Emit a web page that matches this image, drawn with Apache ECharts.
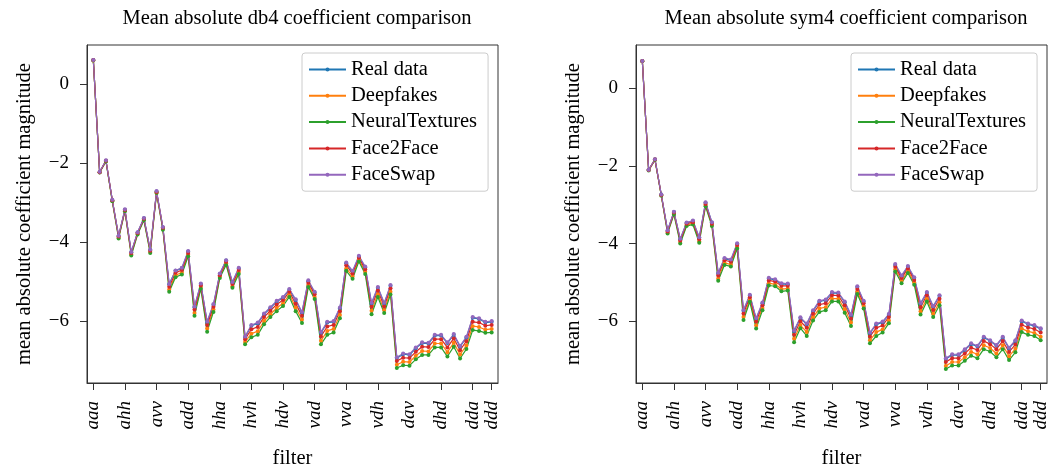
<!DOCTYPE html>
<html><head><meta charset="utf-8">
<script src="https://cdn.jsdelivr.net/npm/echarts@6/dist/echarts.min.js"></script>
<style>html,body{margin:0;padding:0;background:#fff}#c{width:1052px;height:474px}</style>
</head><body><div id="c"></div>
<script>
const filters = [
 'aaa','aah','aav','aad','aha','ahh','ahv','ahd','ava','avh','avv','avd','ada','adh','adv','add',
 'haa','hah','hav','had','hha','hhh','hhv','hhd','hva','hvh','hvv','hvd','hda','hdh','hdv','hdd',
 'vaa','vah','vav','vad','vha','vhh','vhv','vhd','vva','vvh','vvv','vvd','vda','vdh','vdv','vdd',
 'daa','dah','dav','dad','dha','dhh','dhv','dhd','dva','dvh','dvv','dvd','dda','ddh','ddv','ddd'];
const tickIdx = [0,5,10,15,20,25,30,35,40,45,50,55,60,63];
const yTicks = [-6,-4,-2,0];
const seriesNames = ['Real data','Deepfakes','NeuralTextures','Face2Face','FaceSwap'];
const colors = ['#1f77b4','#ff7f0e','#2ca02c','#d62728','#9467bd'];

// db4 (left panel)
const db4Real = [0.62,-2.22,-1.93,-2.93,-3.84,-3.17,-4.25,-3.75,-3.39,-4.19,-2.71,-3.62,-5.06,-4.72,-4.65,-4.23,-5.64,-5.05,-6.02,-5.58,-4.80,-4.46,-5.01,-4.66,-6.40,-6.11,-6.05,-5.82,-5.66,-5.50,-5.40,-5.20,-5.46,-5.78,-4.98,-5.27,-6.29,-6.03,-6.01,-5.67,-4.53,-4.74,-4.36,-4.63,-5.55,-5.15,-5.55,-5.10,-6.93,-6.83,-6.85,-6.68,-6.55,-6.56,-6.36,-6.36,-6.55,-6.34,-6.64,-6.41,-5.91,-5.94,-6.03,-6.01];
const db4Deepfakes = [0.61,-2.22,-1.94,-2.95,-3.88,-3.20,-4.30,-3.78,-3.42,-4.24,-2.74,-3.66,-5.19,-4.83,-4.76,-4.31,-5.79,-5.13,-6.18,-5.70,-4.87,-4.53,-5.11,-4.75,-6.52,-6.31,-6.25,-5.99,-5.82,-5.66,-5.54,-5.32,-5.65,-5.96,-5.08,-5.38,-6.49,-6.24,-6.19,-5.84,-4.66,-4.86,-4.44,-4.74,-5.73,-5.31,-5.71,-5.25,-7.10,-7.02,-7.03,-6.87,-6.75,-6.76,-6.56,-6.56,-6.78,-6.54,-6.84,-6.61,-6.12,-6.14,-6.21,-6.19];
const db4Neural = [0.61,-2.23,-1.95,-2.96,-3.90,-3.21,-4.33,-3.80,-3.44,-4.27,-2.75,-3.68,-5.25,-4.88,-4.81,-4.35,-5.86,-5.17,-6.26,-5.76,-4.90,-4.57,-5.15,-4.80,-6.58,-6.40,-6.34,-6.07,-5.89,-5.74,-5.61,-5.38,-5.74,-6.04,-5.13,-5.43,-6.58,-6.34,-6.28,-5.92,-4.72,-4.92,-4.48,-4.80,-5.82,-5.38,-5.79,-5.32,-7.18,-7.11,-7.12,-6.96,-6.85,-6.85,-6.66,-6.66,-6.89,-6.64,-6.94,-6.70,-6.22,-6.24,-6.29,-6.28];
const db4Face2Face = [0.62,-2.22,-1.93,-2.93,-3.85,-3.18,-4.27,-3.76,-3.40,-4.21,-2.72,-3.63,-5.12,-4.77,-4.70,-4.27,-5.70,-5.09,-6.09,-5.63,-4.83,-4.49,-5.05,-4.70,-6.45,-6.20,-6.14,-5.89,-5.73,-5.57,-5.46,-5.25,-5.55,-5.86,-5.02,-5.31,-6.38,-6.13,-6.09,-5.74,-4.58,-4.79,-4.39,-4.68,-5.63,-5.22,-5.62,-5.16,-7.00,-6.92,-6.93,-6.77,-6.64,-6.65,-6.45,-6.45,-6.66,-6.43,-6.73,-6.50,-6.01,-6.03,-6.11,-6.09];
const db4FaceSwap = [0.62,-2.21,-1.92,-2.92,-3.83,-3.16,-4.24,-3.74,-3.38,-4.18,-2.70,-3.61,-5.05,-4.71,-4.64,-4.22,-5.62,-5.04,-6.00,-5.56,-4.79,-4.45,-5.00,-4.64,-6.38,-6.09,-6.03,-5.80,-5.64,-5.48,-5.38,-5.18,-5.44,-5.76,-4.96,-5.25,-6.27,-6.01,-5.99,-5.65,-4.51,-4.72,-4.34,-4.61,-5.53,-5.13,-5.53,-5.08,-6.91,-6.81,-6.83,-6.66,-6.53,-6.54,-6.34,-6.34,-6.53,-6.32,-6.62,-6.39,-5.89,-5.92,-6.01,-5.99];

// sym4 (right panel)
const sym4Real = [0.70,-2.10,-1.83,-2.74,-3.67,-3.19,-3.89,-3.47,-3.42,-3.85,-2.95,-3.46,-4.77,-4.39,-4.43,-4.01,-5.73,-5.34,-5.94,-5.54,-4.90,-4.94,-5.04,-5.05,-6.26,-5.92,-6.08,-5.74,-5.49,-5.46,-5.27,-5.28,-5.51,-5.85,-5.12,-5.49,-6.31,-6.08,-6.03,-5.83,-4.55,-4.84,-4.60,-4.89,-5.55,-5.27,-5.63,-5.35,-6.97,-6.87,-6.87,-6.74,-6.59,-6.65,-6.42,-6.51,-6.63,-6.42,-6.70,-6.51,-6.00,-6.08,-6.12,-6.20];
const sym4Deepfakes = [0.69,-2.11,-1.84,-2.76,-3.72,-3.23,-3.96,-3.52,-3.48,-3.94,-3.01,-3.52,-4.90,-4.50,-4.54,-4.09,-5.89,-5.45,-6.11,-5.66,-5.02,-5.05,-5.17,-5.16,-6.45,-6.10,-6.28,-5.90,-5.67,-5.64,-5.42,-5.42,-5.69,-6.03,-5.24,-5.61,-6.49,-6.28,-6.21,-5.98,-4.66,-4.96,-4.71,-5.00,-5.74,-5.42,-5.81,-5.51,-7.15,-7.05,-7.05,-6.93,-6.79,-6.85,-6.62,-6.69,-6.83,-6.62,-6.90,-6.71,-6.19,-6.26,-6.30,-6.40];
const sym4Neural = [0.69,-2.12,-1.85,-2.77,-3.74,-3.25,-4.00,-3.55,-3.51,-3.98,-3.04,-3.55,-4.96,-4.55,-4.59,-4.13,-5.97,-5.50,-6.19,-5.72,-5.08,-5.10,-5.23,-5.21,-6.54,-6.18,-6.38,-5.98,-5.76,-5.72,-5.49,-5.49,-5.78,-6.12,-5.30,-5.67,-6.57,-6.38,-6.29,-6.05,-4.72,-5.02,-4.76,-5.06,-5.83,-5.49,-5.89,-5.59,-7.23,-7.14,-7.14,-7.02,-6.89,-6.95,-6.72,-6.78,-6.93,-6.72,-7.00,-6.80,-6.28,-6.35,-6.38,-6.49];
const sym4Face2Face = [0.70,-2.11,-1.84,-2.75,-3.69,-3.20,-3.92,-3.49,-3.45,-3.89,-2.98,-3.49,-4.82,-4.43,-4.47,-4.04,-5.80,-5.38,-6.01,-5.59,-4.95,-4.98,-5.09,-5.09,-6.35,-6.00,-6.17,-5.81,-5.57,-5.54,-5.33,-5.34,-5.59,-5.93,-5.17,-5.54,-6.39,-6.17,-6.11,-5.89,-4.60,-4.89,-4.64,-4.94,-5.64,-5.33,-5.71,-5.42,-7.05,-6.95,-6.95,-6.83,-6.68,-6.74,-6.51,-6.59,-6.72,-6.51,-6.79,-6.60,-6.09,-6.16,-6.20,-6.29];
const sym4FaceSwap = [0.70,-2.10,-1.83,-2.74,-3.66,-3.18,-3.88,-3.46,-3.41,-3.84,-2.94,-3.45,-4.75,-4.37,-4.41,-3.99,-5.71,-5.32,-5.92,-5.52,-4.88,-4.92,-5.02,-5.03,-6.24,-5.90,-6.06,-5.72,-5.47,-5.44,-5.25,-5.26,-5.49,-5.83,-5.10,-5.47,-6.29,-6.06,-6.01,-5.81,-4.53,-4.82,-4.58,-4.87,-5.53,-5.25,-5.61,-5.33,-6.95,-6.85,-6.85,-6.72,-6.57,-6.63,-6.40,-6.49,-6.61,-6.40,-6.68,-6.49,-5.98,-6.06,-6.10,-6.18];

const db4Sets = [db4Real, db4Deepfakes, db4Neural, db4Face2Face, db4FaceSwap];
const sym4Sets = [sym4Real, sym4Deepfakes, sym4Neural, sym4Face2Face, sym4FaceSwap];

const FONT = 'Liberation Serif';
const BIG = 20.5;
const TICK = 19;
const chart = echarts.init(document.getElementById('c'), null, {renderer: 'canvas'});

function xAxisCfg(gi) {
  return {
    type: 'value', gridIndex: gi, min: -1, max: 64,
    name: 'filter', nameLocation: 'middle', nameGap: 65,
    nameTextStyle: {fontFamily: FONT, fontSize: BIG, color: '#000'},
    axisLine: {show: true, onZero: false, lineStyle: {color: '#333', width: 1}},
    axisTick: {show: true, length: 7, customValues: tickIdx, lineStyle: {color: '#333', width: 1}},
    axisLabel: {show: true, customValues: tickIdx, rotate: 90, margin: 18,
      fontFamily: FONT, fontSize: TICK, fontStyle: 'italic', color: '#000',
      formatter: v => filters[Math.round(v)]},
    splitLine: {show: false}
  };
}
function yAxisCfg(gi, mn, mx, gap) {
  return {
    type: 'value', gridIndex: gi, min: mn, max: mx,
    name: 'mean absolute coefficient magnitude', nameLocation: 'middle', nameGap: gap,
    nameTextStyle: {fontFamily: FONT, fontSize: BIG, color: '#000'},
    axisLine: {show: true, onZero: false, lineStyle: {color: '#333', width: 1}},
    axisTick: {show: true, length: 7, customValues: yTicks, lineStyle: {color: '#333', width: 1}},
    axisLabel: {show: true, customValues: yTicks, margin: 18,
      fontFamily: FONT, fontSize: TICK, color: '#000',
      formatter: v => v < 0 ? '\u2212' + Math.abs(v) : String(v)},
    splitLine: {show: false}
  };
}
function legendCfg(left) {
  return {
    orient: 'vertical', left: left, top: 53,
    data: seriesNames,
    itemWidth: 37, itemHeight: 5, itemGap: 5.3,
    padding: [6, 11, 6, 6],
    backgroundColor: '#fff', borderColor: '#ccc', borderWidth: 1, borderRadius: 3,
    textStyle: {fontFamily: FONT, fontSize: BIG, color: '#000'}
  };
}
const series = [];
[db4Sets, sym4Sets].forEach((sets, gi) => {
  sets.forEach((vals, k) => {
    series.push({
      name: seriesNames[k], type: 'line', xAxisIndex: gi, yAxisIndex: gi,
      data: vals.map((v, i) => [i, v]),
      symbol: 'circle', symbolSize: 4, showSymbol: true,
      color: colors[k],
      lineStyle: {width: 1.2, color: colors[k]},
      itemStyle: {color: colors[k]},
      emphasis: {disabled: true},
      animation: false
    });
  });
});

chart.setOption({
  animation: false,
  backgroundColor: '#fff',
  title: [
    {text: 'Mean absolute db4 coefficient comparison', left: 292, top: 3, textAlign: 'center',
     textStyle: {fontFamily: FONT, fontSize: BIG, fontWeight: 'normal', color: '#000'}},
    {text: 'Mean absolute sym4 coefficient comparison', left: 841, top: 3, textAlign: 'center',
     textStyle: {fontFamily: FONT, fontSize: BIG, fontWeight: 'normal', color: '#000'}}
  ],
  legend: [legendCfg(302), legendCfg(851)],
  grid: [
    {left: 87, top: 45, width: 411, height: 341, show: true, borderColor: '#333', borderWidth: 1, containLabel: false},
    {left: 636, top: 45, width: 411, height: 341, show: true, borderColor: '#333', borderWidth: 1, containLabel: false}
  ],
  xAxis: [xAxisCfg(0), xAxisCfg(1)],
  yAxis: [yAxisCfg(0, -7.56, 1.0, 52), yAxisCfg(1, -7.59, 1.11, 52)],
  series: series
});
</script>
</body></html>
